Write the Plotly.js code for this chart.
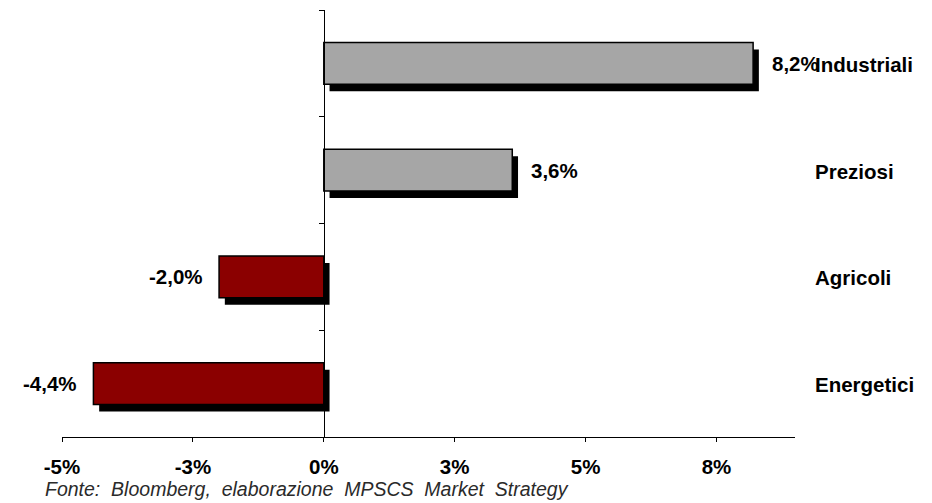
<!DOCTYPE html>
<html>
<head>
<meta charset="utf-8">
<script src="https://cdn.plot.ly/plotly-3.0.1.min.js"></script>
<style>html,body{margin:0;padding:0;background:#fff;}#chart{width:932px;height:503px;}</style>
</head>
<body>
<div id="chart"></div>
<script>
var categories = ["Industriali", "Preziosi", "Agricoli", "Energetici"];
var values = [8.2, 3.6, -2.0, -4.4];
var barColors = ["#A6A6A6", "#A6A6A6", "#8B0000", "#8B0000"];
var tickValues = [-5, -2.5, 0, 2.5, 5, 7.5];
var tickLabels = ["-5%", "-3%", "0%", "3%", "5%", "8%"];
var sourceText = "Fonte: Bloomberg, elaborazione MPSCS Market Strategy";

var xRange = [-5, 9];
var barWidth = 0.39;
var shadowDx = 0.11;
var shadowDy = 0.065;
var FONT = "Liberation Sans, Arial, sans-serif";
var LABEL_SIZE = 20.5;

function fmt(v) { return v.toFixed(1).replace('.', ',') + '%'; }

var shadow = {
  type: 'bar', orientation: 'h',
  y: categories, x: values,
  base: categories.map(function(){ return shadowDx; }),
  width: barWidth, offset: -barWidth / 2 + shadowDy,
  marker: {color: '#000000', line: {width: 0}},
  hoverinfo: 'skip', showlegend: false
};
var bars = {
  type: 'bar', orientation: 'h',
  y: categories, x: values,
  width: barWidth, offset: -barWidth / 2,
  marker: {color: barColors, line: {color: '#000000', width: 1.5}},
  hoverinfo: 'skip', showlegend: false
};

var annotations = [];
categories.forEach(function(c, i) {
  var v = values[i];
  annotations.push({
    x: v, y: c, xref: 'x', yref: 'y', text: '<b>' + fmt(v) + '</b>',
    showarrow: false, xanchor: v >= 0 ? 'left' : 'right',
    xshift: v >= 0 ? 17 : -14, yshift: 0,
    font: {family: FONT, size: LABEL_SIZE, color: '#000'}
  });
  annotations.push({
    x: 1.024, xref: 'paper', y: c, yref: 'y', text: '<b>' + c + '</b>',
    showarrow: false, xanchor: 'left', yshift: -1,
    font: {family: FONT, size: LABEL_SIZE, color: '#000'}
  });
});
annotations.push({
  x: -0.026, xref: 'paper', y: -0.122, yref: 'paper', yanchor: 'middle',
  text: '<i>' + sourceText.split(' ').join('&nbsp;&nbsp;') + '</i>', showarrow: false, xanchor: 'left',
  font: {family: FONT, size: 19.5, color: '#2a2a2a'}
});

var layout = {
  width: 932, height: 503,
  margin: {l: 62, r: 137, t: 10, b: 66},
  paper_bgcolor: '#ffffff', plot_bgcolor: '#ffffff',
  barmode: 'overlay',
  showlegend: false,
  font: {family: FONT, color: '#000'},
  xaxis: {
    range: xRange, showgrid: false, zeroline: false,
    showline: true, linecolor: '#000', linewidth: 1.2,
    ticks: 'outside', ticklen: 4, tickcolor: '#000', tickwidth: 1,
    tickvals: tickValues, ticktext: tickLabels.map(function(t){ return '<b>' + t + '</b>'; }),
    tickfont: {family: FONT, size: LABEL_SIZE, color: '#000'},
    ticklabelstandoff: 7,
    fixedrange: true
  },
  yaxis: {
    type: 'category', categoryorder: 'array', categoryarray: categories,
    range: [3.5, -0.5],
    anchor: 'free', position: (0 - xRange[0]) / (xRange[1] - xRange[0]),
    showgrid: false, zeroline: false,
    showline: true, linecolor: '#000', linewidth: 1.2,
    ticks: 'outside', ticklen: 5, tickcolor: '#000', tickwidth: 1,
    tickson: 'boundaries', showticklabels: false,
    fixedrange: true
  },
  annotations: annotations
};

Plotly.newPlot('chart', [shadow, bars], layout, {displayModeBar: false, staticPlot: true});
</script>
</body>
</html>
